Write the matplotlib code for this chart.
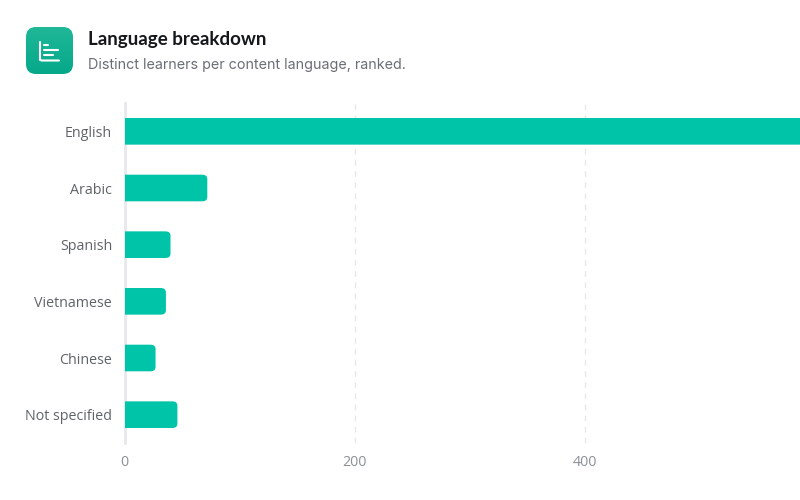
import matplotlib
matplotlib.use("Agg")
import matplotlib.pyplot as plt
from matplotlib.patches import FancyBboxPatch, PathPatch
from matplotlib.path import Path
import numpy as np

languages = ["English", "Arabic", "Spanish", "Vietnamese", "Chinese", "Not specified"]
learners = [640, 72, 40, 36, 27, 46]
x_ticks = [0, 200, 400]

BAR_COLOR = "#00c4a7"
GRID_COLOR = "#e6e8ec"
W, H = 800, 500


def rounded_bar(ax, y, value, height=0.47, rx=4.5, ry=0.075):
    # bar with only the right corners rounded, radius given in data units
    top, bottom = y - height / 2, y + height / 2
    verts = [(0, top), (value - rx, top), (value, top), (value, top + ry),
             (value, bottom - ry), (value, bottom), (value - rx, bottom),
             (0, bottom), (0, top)]
    codes = [Path.MOVETO, Path.LINETO, Path.CURVE3, Path.CURVE3,
             Path.LINETO, Path.CURVE3, Path.CURVE3,
             Path.LINETO, Path.CLOSEPOLY]
    ax.add_patch(PathPatch(Path(verts, codes), facecolor=BAR_COLOR, edgecolor="none", zorder=3))


fig = plt.figure(figsize=(8, 5), dpi=100, facecolor="white")

# plot area in pixels: x 124.5 to 800, y 103 to 443
ax = fig.add_axes([124.5 / W, 1 - 443 / H, (W - 124.5) / W, 340 / H])
ax.set_xlim(0, (W - 124.5) / 1.15)
ax.set_ylim(len(languages) - 0.5, -0.5)

for i, value in enumerate(learners):
    rounded_bar(ax, i, value)

for spine in ax.spines.values():
    spine.set_visible(False)
ax.axvline(0, color=GRID_COLOR, lw=2, zorder=1, clip_on=False)
for t in x_ticks[1:]:
    ax.axvline(t, color=GRID_COLOR, lw=1, ls=(0, (4, 4)), zorder=1)

ax.set_yticks(range(len(languages)))
ax.set_yticklabels(languages, fontfamily="Open Sans", fontsize=10.3, color="#5f6368")
ax.set_xticks(x_ticks)
ax.set_xticklabels([str(t) for t in x_ticks], fontfamily="Open Sans", fontsize=10.3, color="#8c9096")
ax.tick_params(axis="y", length=0, pad=9)
ax.tick_params(axis="x", length=0, pad=9)

# overlay in pixel coordinates for the header
over = fig.add_axes([0, 0, 1, 1], facecolor="none")
over.set_xlim(0, W)
over.set_ylim(H, 0)
over.axis("off")

gradient = np.linspace(0, 1, 64).reshape(-1, 1)
start, end = np.array([0x1f, 0xb8, 0x98]) / 255, np.array([0x06, 0xa8, 0x8a]) / 255
gradient_img = (start + (end - start) * gradient)[:, None, :].reshape(64, 1, 3)
img = over.imshow(gradient_img, extent=(26, 73, 74, 27), aspect="auto", zorder=2)
clip = FancyBboxPatch((26, 27), 47, 47, boxstyle="round,pad=0,rounding_size=10",
                      transform=over.transData, facecolor="none", edgecolor="none")
over.add_patch(clip)
img.set_clip_path(clip)
over.set_xlim(0, W)
over.set_ylim(H, 0)

# icon glyph
over.plot([40, 40, 42, 59], [42, 60, 60.5, 60.5], color="white", lw=1.5, solid_capstyle="round", zorder=3)
for y0, x1 in zip([44.5, 50, 55], [48, 58, 53]):
    over.plot([44, x1], [y0, y0], color="white", lw=1.5, solid_capstyle="round", zorder=3)

over.text(88, 40, "Language breakdown", fontfamily="Lato", fontweight="bold", fontsize=13.5,
          color="#15171a", va="center", ha="left")
over.text(88, 64.5, "Distinct learners per content language, ranked.", fontfamily="Inter", fontsize=10.3,
          color="#6a6e75", va="center", ha="left")

fig.savefig("out.png", dpi=100)
